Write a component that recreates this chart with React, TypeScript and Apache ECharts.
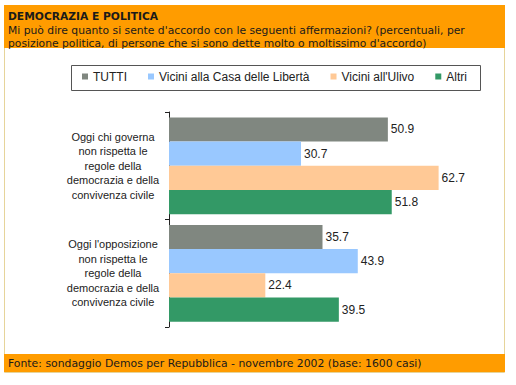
import React, { useEffect, useRef } from "react";
import * as echarts from "echarts";

const categories = [
  "Oggi chi governa\nnon rispetta le\nregole della\ndemocrazia e della\nconvivenza civile",
  "Oggi l'opposizione\nnon rispetta le\nregole della\ndemocrazia e della\nconvivenza civile",
];
const seriesNames = ["TUTTI", "Vicini alla Casa delle Libertà", "Vicini all'Ulivo", "Altri"];
const tutti = [50.9, 35.7];
const cdl = [30.7, 43.9];
const ulivo = [62.7, 22.4];
const altri = [51.8, 39.5];
const colors = ["#808780", "#99c8ff", "#ffc996", "#339966"];

const title = "DEMOCRAZIA E POLITICA";
const subtitle1 = "Mi può dire quanto si sente d'accordo con le seguenti affermazioni? (percentuali, per";
const subtitle2 = "posizione politica, di persone che si sono dette molto o moltissimo d'accordo)";
const footer = "Fonte: sondaggio Demos per Repubblica - novembre 2002 (base: 1600 casi)";

export default function App() {
  const ref = useRef<HTMLDivElement>(null);
  useEffect(() => {
    if (!ref.current) return;
    const chart = echarts.init(ref.current, null, { renderer: "svg" });
    const values = [tutti, cdl, ulivo, altri];
    const font = "DejaVu Sans, Verdana, sans-serif";
    chart.setOption({
      animation: false,
      backgroundColor: "#ffffff",
      graphic: [
        { type: "rect", z: -10, shape: { x: 4.5, y: 5.5, width: 500, height: 367 }, style: { fill: "#ffffff", stroke: "#e6d49a", lineWidth: 1 } },
        { type: "rect", z: -9, shape: { x: 4, y: 5, width: 501, height: 43 }, style: { fill: "#ff9c00" } },
        { type: "rect", z: -9, shape: { x: 4, y: 354, width: 501, height: 18 }, style: { fill: "#ff9c00" } },
        { type: "text", x: 8, y: 16, style: { text: title, font: `bold 10.7px ${font}`, fill: "#1a1a1a", textVerticalAlign: "middle" } },
        { type: "text", x: 8, y: 30, style: { text: subtitle1, font: `10.75px ${font}`, fill: "#1a1a1a", textVerticalAlign: "middle" } },
        { type: "text", x: 8, y: 43, style: { text: subtitle2, font: `10.75px ${font}`, fill: "#1a1a1a", textVerticalAlign: "middle" } },
        { type: "text", x: 8, y: 363, style: { text: footer, font: `10.85px ${font}`, fill: "#1a1a1a", textVerticalAlign: "middle" } },
        { type: "rect", shape: { x: 71.5, y: 65.5, width: 409, height: 25 }, style: { fill: "none", stroke: "#555555", lineWidth: 1 } },
      ],
      legend: {
        left: 82,
        top: 70.5,
        padding: 0,
        itemWidth: 6,
        itemHeight: 6,
        itemGap: 21,
        icon: "rect",
        data: seriesNames,
        textStyle: { fontFamily: "Liberation Sans, Arial, sans-serif", fontSize: 12, color: "#222" },
      },
      grid: { left: 169, top: 112, width: 301, height: 215, containLabel: false },
      xAxis: {
        type: "value",
        min: 0,
        max: 70,
        show: false,
      },
      yAxis: {
        type: "category",
        inverse: true,
        data: categories,
        axisLine: { show: true, lineStyle: { color: "#222", width: 1 } },
        axisTick: { show: true, length: 4, lineStyle: { color: "#222" } },
        axisLabel: {
          margin: 56,
          align: "center",
          fontFamily: "Liberation Sans, Arial, sans-serif",
          fontSize: 11,
          lineHeight: 14.5,
          color: "#222",
        },
      },
      series: seriesNames.map((name, i) => ({
        name,
        type: "bar",
        data: values[i],
        barGap: "0%",
        barCategoryGap: "10%",
        itemStyle: { color: colors[i] },
        label: {
          show: true,
          position: "right",
          distance: 3,
          fontFamily: "Liberation Sans, Arial, sans-serif",
          fontSize: 12,
          color: "#222",
          formatter: (p: any) => p.value.toFixed(1),
        },
      })),
    });
    return () => chart.dispose();
  }, []);
  return <div ref={ref} style={{ position: "absolute", left: 0, top: 0, width: 516, height: 385 }} />;
}
